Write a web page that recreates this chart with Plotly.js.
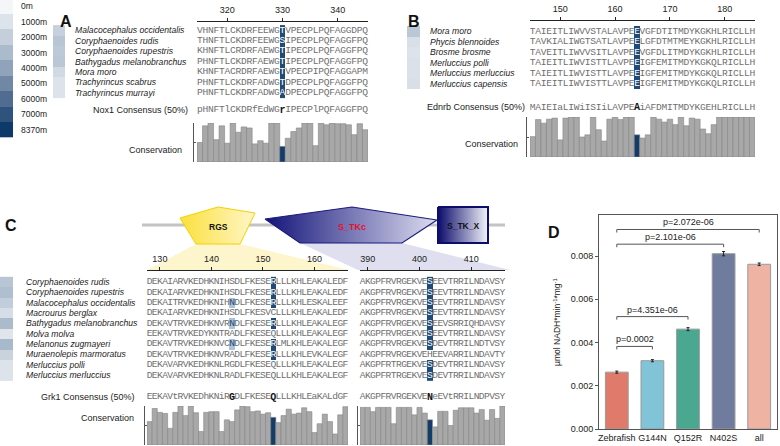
<!DOCTYPE html>
<html><head><meta charset="utf-8">
<script src="https://cdn.plot.ly/plotly-3.0.1.min.js"></script>
<style>html,body{margin:0;padding:0;background:#fff}#chart{width:780px;height:446px}</style>
</head><body><div id="chart"></div>
<script>
// ================= DATA =================
const depthLevels = [0, 1000, 2000, 3000, 4000, 5000, 6000, 7000, 8370];
const depthLabels = ['0m', '1000m', '2000m', '3000m', '4000m', '5000m', '6000m', '7000m', '8370m'];

// Panel A (Nox1)
const speciesA = ['Malacocephalus occidentalis', 'Coryphaenoides rudis', 'Coryphaenoides rupestris',
  'Bathygadus melanobranchus', 'Mora moro', 'Trachyrincus scabrus', 'Trachyrincus murrayi'];
const depthA = [1900, 2500, 2300, 2400, 1500, 1000, 1000];
const startA = 315;
const seqA = [
  'VHNFTLCKDRFEEWGTVPECPLPQFAGGDPQ',
  'THNFTLCKDRFEEWGSIPECPLPQFAGGFPQ',
  'KHNFTLCRDRFAEWGTIPECPLPQFAGGFPQ',
  'PHNFTLCKDRFAEWGTIPECPLPQFAGGFPQ',
  'KHNFTACRDRFAEWGTVPECPIPQFAGGAPM',
  'PHNFTLCKDRFADWGTDPECPLPQFAGGFPQ',
  'PHNFTLCKDRFADWGADPECPLPQFAGGFPQ'];
const consensusA = 'pHNFTlCKDRfEdWGrIPECPlPQFAGGFPQ';
const siteA = [330];
const darkA = {330: [0, 1, 2, 3, 4, 5, 6]};
const conservationA = [5.5, 10.2, 11, 6.3, 10.2, 5.3, 11, 8.4, 9.9, 9.6, 5.1, 6.0, 5.3, 11, 11,
  4.4, 6.7, 8.6, 9.6, 11, 11, 4.6, 11, 10.5, 11, 10.8, 10.8, 10.5, 7.7, 10.8, 9.1];
const ticksA = [320, 330, 340];

// Panel B (Ednrb)
const speciesB = ['Mora moro', 'Phycis blennoides', 'Brosme brosme', 'Merluccius polli',
  'Merluccius merluccius', 'Merluccius capensis'];
const depthB = [2400, 1200, 1000, 1100, 1100, 1200];
const startB = 145;
const seqB = [
  'TAIEITLIWVVSTALAVPEEVGFDTITMDYKGKHLRICLLH',
  'TAVKIALIWGTSATLAVPEELGFDTMTMEYKGKHLRICLLH',
  'TAVEITLIWVVSITLAVPEEVGFDLITMDYKGKHLRICLLH',
  'TAIEITLIWVISTTLAVPEEIGFEMITMDYKGKQLRICLLH',
  'TAIEITLIWVISTTLAVPEEIGFEMITMDYKGKQLRICLLH',
  'TAIEITLIWVISTTLAVPEEIGFEMITMDYKGKQLRICLLH'];
const consensusB = 'MAIEIaLIWiISIiLAVPEAiAFDMITMDYKGEHLRICLLH';
const siteB = [164];
const darkB = {164: [0, 1, 2, 3, 4, 5]};
const conservationB = [5.6, 10.3, 9.3, 10.4, 10.7, 4.7, 10.7, 11, 11, 5.5, 6.1, 11, 7.5, 4.4, 10.4,
  11, 10.3, 11, 11, 6.1, 5.2, 6.1, 11, 10.4, 9.6, 10.4, 8.9, 11, 8.6, 10.7, 10.4, 7.7, 6.4, 8.9,
  11, 11, 11, 11, 11, 11, 11];
const ticksB = [150, 160, 170, 180];

// Panel C (Grk1)
const speciesC = ['Coryphaenoides rudis', 'Coryphaenoides rupestris', 'Malacocephalus occidentalis',
  'Macrourus berglax', 'Bathygadus melanobranchus', 'Molva molva', 'Melanonus zugmayeri',
  'Muraenolepis marmoratus', 'Merluccius polli', 'Merluccius merluccius'];
const depthC = [2500, 2800, 2100, 1300, 3000, 900, 3100, 1800, 1000, 1000];
const startC1 = 128;
const seqC1 = [
  'DEKAIARVKEDHKNIHSDLFKESERLLLKHLEAKALEDF',
  'DEKAIARVKEDHKNIHSDLFKESERLLLKHLEAKALEDF',
  'DEKAITRVKEDHKNIHNDLFKESERLLLKHLESKALEEF',
  'DEKAIARVKEDHKNIHSDLFKESVCLLLKHLEAKALEDF',
  'DEKAVTRVKEDHKNVRNDLFKESERLLLKHLEAKALEGF',
  'EEKAVTRVKEDYKNTRADLFKESEQLLLKHLEAKALEGF',
  'DEKAVTRVKEDHKNVCNDLFKESERLMLKHLEAKALEGF',
  'DEKAVTRVKEDHKNVRADLFKESERLLLKHLEVKALEGF',
  'DEKAVARVKEDHKNLRGDLFKESEQLLLKHLEAKALEGF',
  'DEKAVARVKEDHKNLRADLFKESEQLLLKHLEAKALEGF'];
const consensusC1 = 'EEKAVtRVKEDhKNiRGDLFKESEQLLLKHLEaKALdGF';
const siteC1 = [152];
const darkC1 = {152: [0, 1, 2, 4, 6, 7]};
const lightC1 = {144: [2, 4, 6]};
const boldC1 = [144, 152];
const conservationC1 = [6.6, 10.3, 9.2, 8.9, 4.7, 9.2, 11, 8.3, 11, 9.1, 3.8, 9.2, 9.4, 9.4, 3.8,
  7.1, 6.6, 9.9, 11, 10.8, 9.4, 9.6, 8.7, 9.1, 7.8, 6.3, 8.3, 10.1, 8.7, 9.0, 10.5, 9.4, 3.5, 6.0,
  8.7, 6.6, 3.1, 8.5, 10.8];
const ticksC1 = [130, 140, 150, 160];

const startC2 = 389;
const seqC2 = [
  'AKGPFRVRGEKVESEEVTRRILNDAVSY',
  'AKGPFRVRGEKVESEEVTRRILNDAVSY',
  'AKGPFRVRGEKVESEEVTRRILNDAVSY',
  'AKGPFRVRGEKVESEEVTRRILNDAVSY',
  'AKGPFRVRGEKVESEEVSRRIQHDAVSY',
  'AKGPFRVRGEKVESEEVTRRILNDAVSY',
  'AKGPFRVRGEKVESDEVTRRILNDTVSY',
  'AKGPFRVRGEKVEHEEVARRILNDAVTY',
  'AKGPFRTRGEKVESDEVTRRILNDAVSY',
  'AKGPFRTRGEKVESDEVTRRILNDAVSY'];
const consensusC2 = 'AKGPFRVRGEKVENeEVtRRILNDPVSY';
const siteC2 = [402];
const darkC2 = {402: [0, 1, 2, 3, 4, 5, 6, 8, 9]};
const conservationC2 = [10.6, 10.6, 9.4, 10.6, 10.6, 10.6, 6.0, 10.6, 10.6, 10.6, 8.5, 10.6, 9.0,
  7.1, 5.1, 9.5, 9.5, 5.5, 9.8, 10.5, 10.5, 10.5, 9.0, 10.0, 7.0, 10.0, 7.5, 11];
const ticksC2 = [390, 400, 410];

// Panel D (NADH oxidase activity)
const groupsD = ['Zebrafish', 'G144N', 'Q152R', 'N402S', 'all'];
const activityD = [0.00263, 0.00316, 0.00462, 0.00811, 0.00762];
const errorD = [0.00005, 0.00005, 0.00007, 0.00010, 0.00006];
const compFromD = ['Zebrafish', 'Zebrafish', 'Zebrafish', 'Zebrafish'];
const compToD = ['G144N', 'Q152R', 'N402S', 'all'];
const compLabelD = ['p=0.0002', 'p=4.351e-06', 'p=2.101e-06', 'p=2.072e-06'];
const ticksD = [0, 0.002, 0.004, 0.006, 0.008];

// ================= LAYOUT HELPERS =================
const W = 780, H = 446;
const FONT = 'Liberation Sans, Arial, Helvetica, sans-serif';
const MONO = 'Liberation Mono, Courier New, monospace';
const px = v => v / W;
const py = v => 1 - v / H;
const hdom = (a, b) => [px(a), px(b)];
const vdom = (top, bottom) => [py(bottom), py(top)];
const depthColors = ['#f5f6f8', '#dde3ea', '#c4cfdb', '#aabbcc', '#8fa4bb', '#7088a6', '#506d91', '#30537e', '#0e3a69'];
const depthScale = depthLevels.map((v, i) => [v / depthLevels[depthLevels.length - 1], depthColors[i]]);
const GRAY_TXT = '#707070';
const HL_DARK = '#1f4b79';
const HL_LIGHT = '#a9c3dc';
const BAR_GRAY = '#a8a8a8';
const BAR_KEY = '#143c68';

const traces = [];
const layout = {
  width: W, height: H, margin: {l: 0, r: 0, t: 0, b: 0},
  paper_bgcolor: '#ffffff', plot_bgcolor: 'rgba(0,0,0,0)',
  showlegend: false, font: {family: FONT, size: 9, color: '#222'},
  annotations: [], shapes: []
};
const ann = a => layout.annotations.push(Object.assign({showarrow: false, font: {family: FONT, size: 9, color: '#222'}}, a));

function rowAxis(top, bottom, row0, step) {
  return {range: [(bottom - row0) / step, (top - row0) / step], domain: vdom(top, bottom)};
}
const range = arr => arr.map((_, k) => k);

function alignment(cfg) {
  const positions = range(cfg.seqs[0].split('')).map(k => cfg.start + k);
  const rows = cfg.seqs.map((_, r) => r);
  const z = cfg.seqs.map(() => positions.map(() => null));
  Object.entries(cfg.dark || {}).forEach(([p, rs]) => rs.forEach(r => z[r][p - cfg.start] = 1));
  Object.entries(cfg.light || {}).forEach(([p, rs]) => rs.forEach(r => z[r][p - cfg.start] = 2));
  traces.push({type: 'heatmap', x: positions, y: rows, z: z, xaxis: cfg.xa, yaxis: cfg.ya,
    zmin: 1, zmax: 2, showscale: false, hoverinfo: 'skip', xgap: 0, ygap: 0,
    colorscale: [[0, HL_DARK], [0.5, HL_DARK], [0.5, HL_LIGHT], [1, HL_LIGHT]]});
  const xs = [], ys = [], ts = [], cs = [];
  cfg.seqs.forEach((s, r) => s.split('').forEach((ch, k) => {
    xs.push(cfg.start + k); ys.push(r); ts.push(ch);
    cs.push(z[r][k] === 1 ? '#ffffff' : (z[r][k] === 2 ? HL_DARK : GRAY_TXT));
  }));
  const bx = [], bt = [];
  cfg.consensus.split('').forEach((ch, k) => {
    const pos = cfg.start + k;
    if (cfg.bold.includes(pos)) { bx.push(pos); bt.push(ch); }
    else { xs.push(pos); ys.push(cfg.consY); ts.push(ch); cs.push(GRAY_TXT); }
  });
  traces.push({type: 'scatter', mode: 'text', x: xs, y: ys, text: ts, xaxis: cfg.xa, yaxis: cfg.ya,
    textposition: 'middle center', cliponaxis: false, hoverinfo: 'skip',
    textfont: {family: MONO, size: 9.6, color: cs}});
  traces.push({type: 'scatter', mode: 'text', x: bx, y: bx.map(() => cfg.consY), text: bt,
    xaxis: cfg.xa, yaxis: cfg.ya, textposition: 'middle center', cliponaxis: false, hoverinfo: 'skip',
    textfont: {family: MONO, size: 10, color: '#111', weight: 'bold'}});
}

function conservation(values, start, sites, xa, ya) {
  const positions = values.map((_, k) => start + k);
  traces.push({type: 'bar', x: positions, y: values, xaxis: xa, yaxis: ya, width: 1, hoverinfo: 'skip',
    marker: {color: positions.map(p => sites.includes(p) ? BAR_KEY : BAR_GRAY), line: {color: '#858585', width: 0.6}}});
}

function depthBoxes(depths, xa, ya) {
  traces.push({type: 'heatmap', x: [0], y: depths.map((_, i) => i), z: depths.map(d => [d]),
    xaxis: xa, yaxis: ya, zmin: 0, zmax: depthLevels[depthLevels.length - 1], colorscale: depthScale,
    showscale: false, hoverinfo: 'skip'});
}

function topAxis(dom, rng, ticks, anchor) {
  return {domain: dom, range: rng, anchor: anchor, side: 'top', showline: true, linecolor: '#222', linewidth: 1,
    ticks: 'outside', ticklen: 3, tickcolor: '#222', tickvals: ticks, tickfont: {size: 9, color: '#222'},
    showgrid: false, zeroline: false, fixedrange: true, ticklabelstandoff: 1};
}
const hidden = (dom, rng, anchor) => ({domain: dom, range: rng, anchor: anchor, visible: false, fixedrange: true});
function bracketAxis(top, bottom, xPos) {
  return {domain: vdom(top, bottom), range: [0, 11], anchor: 'free', position: px(xPos), showline: true,
    linecolor: '#555', linewidth: 1, ticks: 'inside', ticklen: 2, tickcolor: '#555', tickvals: [0, 5.5, 11],
    showticklabels: false, showgrid: false, zeroline: false, fixedrange: true};
}

// ================= DEPTH LEGEND =================
traces.push({type: 'heatmap', x: [0], y: depthLevels.map((_, i) => i), z: depthLevels.map(d => [d]),
  xaxis: 'x13', yaxis: 'y13', zmin: 0, zmax: depthLevels[depthLevels.length - 1], colorscale: depthScale,
  showscale: false, hoverinfo: 'skip', ygap: 0});
layout.xaxis13 = hidden(hdom(0, 13), [-0.5, 0.5], 'y13');
layout.yaxis13 = {domain: [py(137.5), 1], range: [8.5, -0.41], anchor: 'x13', visible: false, fixedrange: true};
depthLabels.forEach((t, i) => ann({xref: 'paper', yref: 'y13', x: px(18.5), y: i, xanchor: 'left', text: t,
  font: {family: FONT, size: 8.5, color: '#222'}}));

// ================= PANEL A =================
const rowA = rowAxis(22, 116, 30.3, 10.4);
alignment({seqs: seqA, start: startA, consensus: consensusA, bold: siteA, dark: darkA,
  xa: 'x', ya: 'y', consY: (110 - 30.3) / 10.4});
layout.xaxis = topAxis(hdom(197, 368), [startA - 0.5, startA + seqA[0].length - 0.5], ticksA, 'y');
layout.yaxis = Object.assign({anchor: 'x', visible: false, fixedrange: true}, rowA);
depthBoxes(depthA, 'x3', 'y');
layout.xaxis3 = hidden(hdom(53, 65), [-0.5, 0.5], 'y');
conservation(conservationA, startA, siteA, 'x2', 'y2');
layout.xaxis2 = hidden(hdom(197, 368), layout.xaxis.range, 'y2');
layout.yaxis2 = bracketAxis(123, 162, 193);
speciesA.forEach((s, i) => ann({xref: 'paper', yref: 'y', x: px(72.5), y: i, xanchor: 'left', text: s,
  font: {family: FONT, size: 8.6, color: '#222', style: 'italic'}}));
ann({xref: 'paper', yref: 'y', x: px(190), y: (110 - 30.3) / 10.4, xanchor: 'right', text: 'Nox1 Consensus (50%)', font: {family: FONT, size: 9, color: '#222'}});
ann({xref: 'paper', yref: 'paper', x: px(183.5), y: py(143), xanchor: 'right', text: 'Conservation', font: {family: FONT, size: 9, color: '#222'}});
ann({xref: 'paper', yref: 'paper', x: px(58), y: py(11), xanchor: 'left', text: '<b>A</b>', font: {family: FONT, size: 16, color: '#111'}});

// ================= PANEL B =================
const rowB = rowAxis(21, 112, 31.25, 10.5);
alignment({seqs: seqB, start: startB, consensus: consensusB, bold: siteB, dark: darkB,
  xa: 'x4', ya: 'y4', consY: (107.3 - 31.25) / 10.5});
layout.xaxis4 = topAxis(hdom(530, 755), [startB - 0.5, startB + seqB[0].length - 0.5], ticksB, 'y4');
layout.yaxis4 = Object.assign({anchor: 'x4', visible: false, fixedrange: true}, rowB);
depthBoxes(depthB, 'x6', 'y4');
layout.xaxis6 = hidden(hdom(407, 420), [-0.5, 0.5], 'y4');
conservation(conservationB, startB, siteB, 'x5', 'y5');
layout.xaxis5 = hidden(hdom(530, 755), layout.xaxis4.range, 'y5');
layout.yaxis5 = bracketAxis(117, 157, 525.5);
speciesB.forEach((s, i) => ann({xref: 'paper', yref: 'y4', x: px(427.5), y: i, xanchor: 'left', text: s,
  font: {family: FONT, size: 8.6, color: '#222', style: 'italic'}}));
ann({xref: 'paper', yref: 'y4', x: px(527), y: (107.3 - 31.25) / 10.5, xanchor: 'right', text: 'Ednrb Consensus (50%)', font: {family: FONT, size: 9, color: '#222'}});
ann({xref: 'paper', yref: 'paper', x: px(520), y: py(137), xanchor: 'right', text: 'Conservation', font: {family: FONT, size: 9, color: '#222'}});
ann({xref: 'paper', yref: 'paper', x: px(406), y: py(11), xanchor: 'left', text: '<b>B</b>', font: {family: FONT, size: 16, color: '#111'}});

// ================= PANEL C =================
const rowC = rowAxis(271, 402, 282, 10.35);
const consYC = (397 - 282) / 10.35;
alignment({seqs: seqC1, start: startC1, consensus: consensusC1, bold: boldC1, dark: darkC1, light: lightC1,
  xa: 'x7', ya: 'y7', consY: consYC});
alignment({seqs: seqC2, start: startC2, consensus: consensusC2, bold: siteC2, dark: darkC2,
  xa: 'x10', ya: 'y7', consY: consYC});
layout.xaxis7 = topAxis(hdom(147, 348), [startC1 - 0.5, startC1 + seqC1[0].length - 0.5], ticksC1, 'y7');
layout.xaxis10 = topAxis(hdom(360, 505), [startC2 - 0.5, startC2 + seqC2[0].length - 0.5], ticksC2, 'y7');
layout.yaxis7 = Object.assign({anchor: 'x7', visible: false, fixedrange: true}, rowC);
depthBoxes(depthC, 'x9', 'y7');
layout.xaxis9 = hidden(hdom(0, 13), [-0.5, 0.5], 'y7');
conservation(conservationC1, startC1, siteC1, 'x8', 'y8');
layout.xaxis8 = hidden(hdom(147, 348), layout.xaxis7.range, 'y8');
layout.yaxis8 = bracketAxis(406, 445, 143.5);
conservation(conservationC2, startC2, siteC2, 'x11', 'y11');
layout.xaxis11 = hidden(hdom(360, 505), layout.xaxis10.range, 'y11');
layout.yaxis11 = bracketAxis(406, 445, 357);
speciesC.forEach((s, i) => ann({xref: 'paper', yref: 'y7', x: px(23.5), y: i, xanchor: 'left', text: s,
  font: {family: FONT, size: 8.6, color: '#222', style: 'italic'}}));
ann({xref: 'paper', yref: 'y7', x: px(137), y: consYC, xanchor: 'right', text: 'Grk1 Consensus (50%)', font: {family: FONT, size: 9, color: '#222'}});
ann({xref: 'paper', yref: 'paper', x: px(135.5), y: py(425), xanchor: 'right', text: 'Conservation', font: {family: FONT, size: 9, color: '#222'}});
ann({xref: 'paper', yref: 'paper', x: px(3), y: py(225), xanchor: 'left', text: '<b>C</b>', font: {family: FONT, size: 16, color: '#111'}});

// domain diagram (decorative geometry, pixel space on overlay axes)
const P = (pts) => 'M' + pts.map(p => px(p[0]) + ',' + py(p[1])).join('L') + 'Z';
layout.shapes.push({type: 'path', xref: 'paper', yref: 'paper', layer: 'below', line: {width: 0},
  fillcolor: '#fdf5cb', path: P([[196, 244], [240, 244], [349, 270], [147, 270]])});
layout.shapes.push({type: 'path', xref: 'paper', yref: 'paper', layer: 'below', line: {width: 0},
  fillcolor: '#dfdff0', path: P([[300, 243], [402, 243], [510, 270], [358, 270]])});
layout.shapes.push({type: 'line', xref: 'paper', yref: 'paper', layer: 'below', x0: px(142), x1: px(505),
  y0: py(225), y1: py(225), line: {color: '#c3c3c3', width: 3}});
const poly = (pts, c0, c1, lc, lw) => traces.push({type: 'scatter', mode: 'lines', xaxis: 'x14', yaxis: 'y14',
  x: pts.map(p => p[0]).concat([pts[0][0]]), y: pts.map(p => p[1]).concat([pts[0][1]]), fill: 'toself',
  fillgradient: {type: 'horizontal', colorscale: [[0, c0], [1, c1]]}, line: {color: lc, width: lw}, hoverinfo: 'skip'});
poly([[218, 207], [255, 213], [240, 244], [196, 244], [180, 218]], '#fbe03c', '#fff6c8', '#f3d200', 1);
poly([[265, 219], [352, 207], [437, 220], [402, 243], [300, 243]], '#14147a', '#dcdcf0', '#1b1b7c', 1.2);
poly([[438, 207], [488, 207], [488, 243], [438, 243]], '#0b0b6c', '#f4f4fb', '#0d0d6a', 2);
layout.xaxis14 = {domain: [0, 1], range: [0, W], anchor: 'y14', visible: false, fixedrange: true};
layout.yaxis14 = {domain: [0, 1], range: [H, 0], anchor: 'x14', visible: false, fixedrange: true};
ann({xref: 'x14', yref: 'y14', x: 218, y: 227, text: '<b>RGS</b>', font: {family: FONT, size: 8.5, color: '#111'}});
ann({xref: 'x14', yref: 'y14', x: 352, y: 227, text: '<b>S_TKc</b>', font: {family: FONT, size: 9, color: '#e3122c'}});
ann({xref: 'x14', yref: 'y14', x: 463, y: 226, text: '<b>S_TK_X</b>', font: {family: FONT, size: 8.5, color: '#111'}});

// ================= PANEL D =================
const colorsD = ['#e07b6c', '#81c4d8', '#4aa890', '#6f7c9d', '#eeb3a2'];
traces.push({type: 'bar', x: groupsD, y: activityD, xaxis: 'x12', yaxis: 'y12', width: 0.64, hoverinfo: 'skip',
  marker: {color: colorsD, line: {color: '#9a9a9a', width: 1}},
  error_y: {type: 'data', array: errorD, visible: true, color: '#222', thickness: 1, width: 1.5}});
const bracketY = [0.00382, 0.0052, 0.00855, 0.00923];
const drop = 0.00014;
compFromD.forEach((a, i) => {
  const b = compToD[i];
  traces.push({type: 'scatter', mode: 'lines', xaxis: 'x12', yaxis: 'y12', hoverinfo: 'skip',
    x: [a, a, b, b], y: [bracketY[i] - drop, bracketY[i], bracketY[i], bracketY[i] - drop],
    line: {color: '#555', width: 1}});
  ann({xref: 'x12', yref: 'y12', x: (groupsD.indexOf(a) + groupsD.indexOf(b)) / 2, y: bracketY[i],
    yanchor: 'bottom', yshift: 0, text: compLabelD[i], font: {family: FONT, size: 9, color: '#222'}});
});
layout.xaxis12 = {domain: hdom(599, 777), anchor: 'y12', type: 'category', showline: true, mirror: true,
  linecolor: '#555', linewidth: 1, ticks: '', tickfont: {size: 9, color: '#222'}, showgrid: false,
  zeroline: false, fixedrange: true, range: [-0.5, 4.5]};
layout.yaxis12 = {domain: vdom(215, 429), anchor: 'x12', range: [0, 0.0099], showline: true, mirror: true,
  linecolor: '#555', linewidth: 1, ticks: 'outside', ticklen: 3, tickcolor: '#555', tickvals: ticksD,
  tickformat: '.3f', tickfont: {size: 9, color: '#222'}, showgrid: false, zeroline: false, fixedrange: true,
  title: {text: 'µmol NADH*min<sup>-1</sup>*mg<sup>-1</sup>', font: {size: 8.5, color: '#222'}, standoff: 8}};
ann({xref: 'paper', yref: 'paper', x: px(546), y: py(233), xanchor: 'left', text: '<b>D</b>', font: {family: FONT, size: 16, color: '#111'}});

Plotly.newPlot('chart', traces, layout, {staticPlot: true, displayModeBar: false});
</script>
</body></html>
